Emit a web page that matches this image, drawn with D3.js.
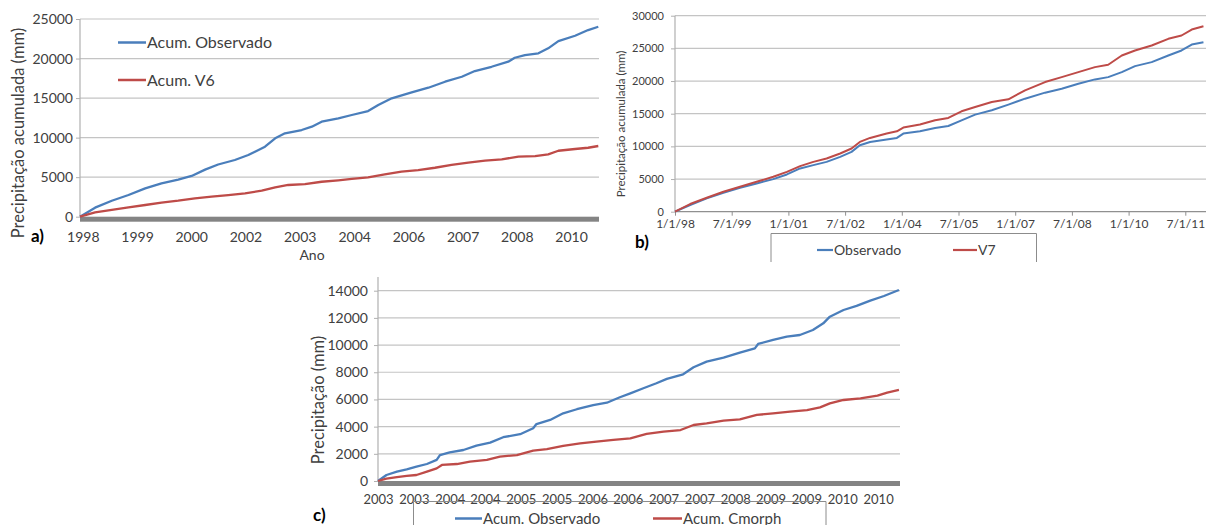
<!DOCTYPE html>
<html>
<head>
<meta charset="utf-8">
<script src="https://cdn.jsdelivr.net/npm/d3@7"></script>
<style>
  body { margin: 0; background: #fff; }
  svg text { font-family: Lato, "Open Sans", sans-serif; }
</style>
</head>
<body>
<svg id="chart" width="1206" height="525"></svg>
<script>
// ---- panel a) Acum. Observado vs Acum. V6 ----
const aObsYears = [1998.00,1998.37,1998.78,1999.19,1999.60,2000.00,2000.41,2000.74,2001.07,2001.39,2001.80,2002.13,2002.54,2002.79,2003.03,2003.44,2003.69,2003.93,2004.34,2004.67,2005.07,2005.32,2005.65,2006.14,2006.55,2006.96,2007.37,2007.69,2008.10,2008.51,2008.67,2008.92,2009.25,2009.49,2009.74,2010.15,2010.47,2010.72];
const aObsValues = [0,1140,2020,2740,3590,4220,4700,5150,5950,6600,7170,7800,8850,9910,10540,10960,11380,12010,12440,12860,13360,14120,14970,15720,16310,17070,17700,18420,18960,19600,20100,20440,20660,21290,22210,22880,23600,24020];
const aV6Years = [1998.00,1998.37,1998.78,1999.19,1999.60,2000.00,2000.41,2000.82,2001.23,2001.64,2002.05,2002.46,2002.79,2003.11,2003.52,2003.93,2004.34,2004.67,2005.07,2005.48,2005.89,2006.30,2006.71,2007.12,2007.53,2007.94,2008.35,2008.76,2009.17,2009.49,2009.74,2010.15,2010.47,2010.72];
const aV6Values = [0,550,850,1190,1480,1770,2020,2320,2530,2740,2960,3290,3720,4010,4130,4420,4600,4770,4980,5360,5690,5900,6190,6540,6830,7080,7260,7590,7670,7890,8340,8560,8720,8940];
const aTicks = [1998.07,1999.40,2000.73,2002.06,2003.39,2004.73,2006.06,2007.39,2008.72,2010.05];
const aTickLabels = ["1998","1999","2000","2002","2003","2004","2006","2007","2008","2010"];
const aYTicks = [0,5000,10000,15000,20000,25000];

// ---- panel b) Observado vs V7 ----
const bYears = [1998.00,1998.40,1998.84,1999.28,1999.72,2000.16,2000.60,2000.96,2001.31,2001.66,2002.01,2002.37,2002.67,2002.89,2003.16,2003.60,2003.87,2004.04,2004.48,2004.88,2005.23,2005.58,2005.94,2006.38,2006.82,2007.26,2007.79,2008.23,2008.67,2009.11,2009.46,2009.82,2010.17,2010.61,2011.05,2011.40,2011.67,2011.98];
const bObsValues = [0,1020,2040,2900,3660,4330,4990,5700,6620,7130,7630,8390,9160,10180,10680,11050,11290,11960,12310,12820,13120,13990,14860,15520,16390,17300,18220,18830,19590,20250,20600,21360,22280,22890,23910,24680,25590,25940];
const bV7Values = [0,1170,2140,3050,3820,4580,5340,6100,6970,7630,8150,8910,9670,10680,11290,11960,12310,12880,13340,13990,14350,15370,16020,16790,17200,18570,19840,20600,21360,22130,22490,23910,24680,25440,26460,26970,27880,28380];
const bTicks = [1998,1999.5,2001,2002.5,2004,2005.5,2007,2008.5,2010,2011.5];
const bTickLabels = ["1/1/98","7/1/99","1/1/01","7/1/02","1/1/04","7/1/05","1/1/07","7/1/08","1/1/10","7/1/11"];
const bYTicks = [0,5000,10000,15000,20000,25000,30000];

// ---- panel c) Acum. Observado vs Acum. Cmorph ----
const cObsYears = [2003.00,2003.13,2003.29,2003.44,2003.59,2003.75,2003.90,2003.95,2004.10,2004.31,2004.51,2004.72,2004.92,2005.18,2005.38,2005.43,2005.64,2005.84,2006.05,2006.30,2006.51,2006.71,2006.87,2007.07,2007.27,2007.43,2007.68,2007.84,2008.04,2008.30,2008.55,2008.78,2008.83,2009.06,2009.27,2009.47,2009.67,2009.83,2009.93,2010.14,2010.34,2010.55,2010.76,2010.99];
const cObsValues = [0,440,690,860,1050,1250,1550,1910,2110,2280,2600,2820,3220,3440,3880,4190,4490,4980,5280,5590,5760,6160,6450,6820,7190,7510,7850,8370,8780,9070,9440,9760,10080,10380,10620,10740,11110,11600,12090,12580,12880,13270,13610,14050];
const cCmYears = [2003.00,2003.13,2003.29,2003.44,2003.59,2003.75,2003.90,2003.98,2004.21,2004.41,2004.67,2004.87,2005.13,2005.38,2005.59,2005.84,2006.10,2006.35,2006.61,2006.87,2007.12,2007.38,2007.64,2007.84,2008.04,2008.30,2008.55,2008.81,2009.06,2009.32,2009.58,2009.78,2009.93,2010.14,2010.40,2010.66,2010.81,2010.99];
const cCmValues = [0,170,290,370,440,690,930,1180,1250,1420,1550,1790,1910,2230,2350,2580,2770,2890,3020,3140,3460,3630,3750,4120,4240,4440,4540,4860,4980,5100,5220,5420,5710,5960,6080,6280,6500,6700];
const cTicks = [2003.00,2003.55,2004.10,2004.64,2005.19,2005.74,2006.29,2006.83,2007.38,2007.93,2008.48,2009.02,2009.57,2010.12,2010.67];
const cTickLabels = ["2003","2003","2004","2004","2005","2005","2006","2006","2007","2007","2008","2009","2009","2010","2010"];
const cYTicks = [0,2000,4000,6000,8000,10000,12000,14000];

const blue = "#4a7ebb", red = "#be4b48";
const gridColor = "#c4c4c4", textColor = "#404040";

const svg = d3.select("#chart");
svg.append("rect").attr("width", 1206).attr("height", 525).attr("fill", "#fff");

const zip = (ts, vs) => ts.map((t, i) => ({ t, v: vs[i] }));

function drawPanel(p) {
  const x = d3.scaleLinear().domain(p.xDomain).range(p.xRange);
  const y = d3.scaleLinear().domain(p.yDomain).range(p.yRange);
  const g = svg.append("g");

  // horizontal gridlines
  g.append("g")
    .selectAll("line")
    .data(p.yTicks.filter(d => d > 0))
    .join("line")
    .attr("x1", p.xRange[0]).attr("x2", p.gridRight)
    .attr("y1", d => y(d)).attr("y2", d => y(d))
    .attr("stroke", gridColor).attr("stroke-width", 1.2);

  // left axis line
  g.append("line")
    .attr("x1", p.xRange[0]).attr("x2", p.xRange[0])
    .attr("y1", p.axisTop).attr("y2", y(0))
    .attr("stroke", "#b0b0b0").attr("stroke-width", 1.2);

  const yAxis = g.append("g")
    .attr("transform", `translate(${p.xRange[0]},0)`)
    .call(d3.axisLeft(y).tickValues(p.yTicks).tickFormat(d3.format("d"))
      .tickSize(4).tickPadding(p.yPad).tickSizeOuter(0));
  yAxis.select(".domain").remove();
  yAxis.selectAll("line").attr("stroke", "#b0b0b0");
  yAxis.selectAll("text").attr("fill", textColor).attr("font-size", p.yFont).attr("font-family", "Lato");

  // bottom axis
  const xAxis = g.append("g")
    .attr("transform", `translate(0,${y(0)})`)
    .call(d3.axisBottom(x).tickValues(p.xTicks)
      .tickFormat((d, i) => p.xTickLabels[i])
      .tickSize(p.xTickSize).tickPadding(p.xPad).tickSizeOuter(0));
  xAxis.select(".domain").remove();
  xAxis.selectAll("line").attr("stroke", "#909090");
  xAxis.selectAll("text").attr("fill", textColor).attr("font-size", p.xFont).attr("font-family", "Lato");

  if (p.thickBase) {
    g.append("rect")
      .attr("x", p.xRange[0]).attr("y", y(0))
      .attr("width", p.gridRight - p.xRange[0]).attr("height", 5)
      .attr("fill", "#848484");
  } else {
    g.append("line")
      .attr("x1", p.xRange[0]).attr("x2", p.gridRight)
      .attr("y1", y(0)).attr("y2", y(0))
      .attr("stroke", "#909090").attr("stroke-width", 1.2);
  }

  const line = d3.line().x(d => x(d.t)).y(d => y(d.v));
  p.series.forEach(s => {
    g.append("path")
      .datum(zip(s.years, s.values))
      .attr("fill", "none")
      .attr("stroke", s.color)
      .attr("stroke-width", p.lineWidth)
      .attr("stroke-linejoin", "round")
      .attr("d", line);
  });

  // y-axis title
  g.append("text")
    .attr("transform", `translate(${p.yTitle.x},${p.yTitle.y}) rotate(-90)`)
    .attr("text-anchor", "middle")
    .attr("dy", "0.35em")
    .attr("font-size", p.yTitle.size)
    .attr("fill", textColor)
    .text(p.yTitle.text);

  // panel letter
  g.append("text")
    .attr("x", p.letter.x).attr("y", p.letter.y)
    .attr("font-size", p.letter.size)
    .attr("font-weight", "bold")
    .attr("font-family", "Liberation Sans")
    .attr("fill", "#000")
    .text(p.letter.text);

  return g;
}

// a)
const gA = drawPanel({
  xDomain: [1998, 2010.72], xRange: [80, 598.3], gridRight: 599,
  yDomain: [0, 25000], yRange: [216.7, 19], axisTop: 19,
  yTicks: aYTicks, yPad: 3, yFont: 14,
  xTicks: aTicks, xTickLabels: aTickLabels, xTickSize: 0, xPad: 15, xFont: 14,
  thickBase: true, lineWidth: 2.3,
  series: [
    { years: aObsYears, values: aObsValues, color: blue },
    { years: aV6Years, values: aV6Values, color: red }
  ],
  yTitle: { x: 18, y: 133, size: 16.5, text: "Precipitação acumulada (mm)" },
  letter: { x: 31, y: 242, size: 17, text: "a)" }
});
gA.append("text").attr("x", 312).attr("y", 260).attr("text-anchor", "middle")
  .attr("font-size", 14).attr("fill", textColor).text("Ano");
[{ y: 42.5, color: blue, label: "Acum. Observado" }, { y: 80, color: red, label: "Acum. V6" }]
  .forEach(d => {
    gA.append("line").attr("x1", 118).attr("x2", 146).attr("y1", d.y).attr("y2", d.y)
      .attr("stroke", d.color).attr("stroke-width", 2.5);
    gA.append("text").attr("x", 147).attr("y", d.y + 5.5).attr("font-size", 16)
      .attr("fill", textColor).text(d.label);
  });

// b)
const gB = drawPanel({
  xDomain: [1998, 2012], xRange: [675, 1204.2], gridRight: 1206,
  yDomain: [0, 30000], yRange: [211.7, 15.7], axisTop: 15.7,
  yTicks: bYTicks, yPad: 7, yFont: 11,
  xTicks: bTicks, xTickLabels: bTickLabels, xTickSize: 4, xPad: 3.5, xFont: 12,
  thickBase: false, lineWidth: 2,
  series: [
    { years: bYears, values: bObsValues, color: blue },
    { years: bYears, values: bV7Values, color: red }
  ],
  yTitle: { x: 621, y: 124, size: 11.5, text: "Precipitação acumulada (mm)" },
  letter: { x: 635, y: 248, size: 17, text: "b)" }
});
gB.append("path").attr("d", "M771,262V233.5H1036.5V262").attr("fill", "none")
  .attr("stroke", "#8c8c8c").attr("stroke-width", 1);
[{ x1: 817, x2: 833, color: blue, label: "Observado" }, { x1: 953, x2: 977, color: red, label: "V7" }]
  .forEach(d => {
    gB.append("line").attr("x1", d.x1).attr("x2", d.x2).attr("y1", 250).attr("y2", 250)
      .attr("stroke", d.color).attr("stroke-width", 2.2);
    gB.append("text").attr("x", d.x2 + 1).attr("y", 254.5).attr("font-size", 14)
      .attr("fill", textColor).text(d.label);
  });

// c)
const gC = drawPanel({
  xDomain: [2003, 2011], xRange: [378, 899.6], gridRight: 900,
  yDomain: [0, 14000], yRange: [481, 290.7], axisTop: 277,
  yTicks: cYTicks, yPad: 6, yFont: 14,
  xTicks: cTicks, xTickLabels: cTickLabels, xTickSize: 0, xPad: 14, xFont: 13,
  thickBase: true, lineWidth: 2.3,
  series: [
    { years: cObsYears, values: cObsValues, color: blue },
    { years: cCmYears, values: cCmValues, color: red }
  ],
  yTitle: { x: 318, y: 400, size: 16.5, text: "Precipitação (mm)" },
  letter: { x: 313, y: 521, size: 17, text: "c)" }
});
gC.append("path").attr("d", "M413.5,530V501.5H826V530").attr("fill", "none")
  .attr("stroke", "#8c8c8c").attr("stroke-width", 1);
[{ x1: 455, x2: 482, color: blue, label: "Acum. Observado" }, { x1: 653, x2: 682, color: red, label: "Acum. Cmorph" }]
  .forEach(d => {
    gC.append("line").attr("x1", d.x1).attr("x2", d.x2).attr("y1", 518.5).attr("y2", 518.5)
      .attr("stroke", d.color).attr("stroke-width", 2.5);
    gC.append("text").attr("x", d.x2 + 1).attr("y", 523.5).attr("font-size", 15)
      .attr("fill", textColor).text(d.label);
  });
</script>
</body>
</html>
